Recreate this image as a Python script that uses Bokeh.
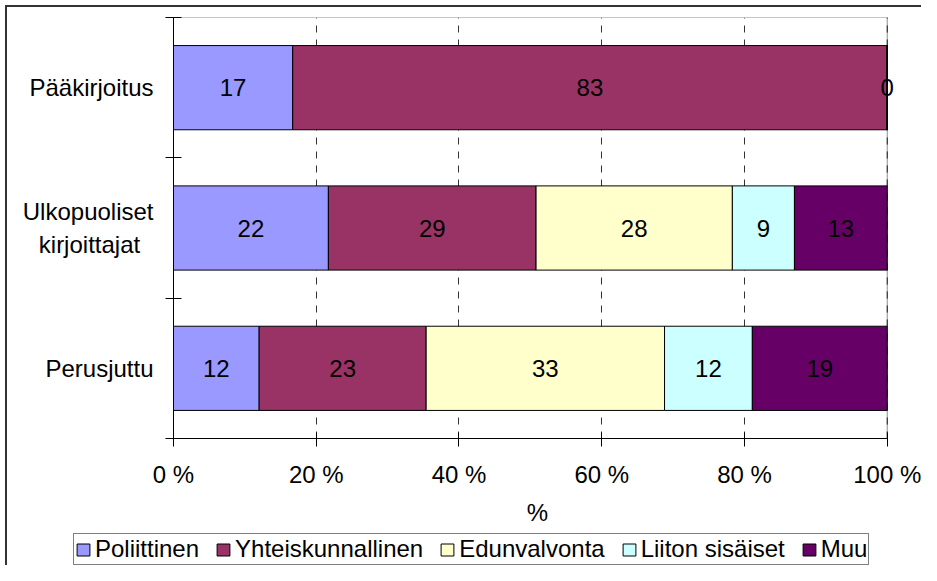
from bokeh.plotting import figure
from bokeh.layouts import column
from bokeh.models import (ColumnDataSource, FixedTicker, Legend, LegendItem,
                          LabelSet, Range1d)
from bokeh.core.properties import value
from bokeh.embed import file_html
from bokeh.resources import INLINE

# ---- data -------------------------------------------------------------
categories = ["Perusjuttu", "Ulkopuoliset kirjoittajat", "Pääkirjoitus"]  # bottom -> top
category_labels = ["Perusjuttu", "Ulkopuoliset\nkirjoittajat  ", "Pääkirjoitus"]
series = ["Poliittinen", "Yhteiskunnallinen", "Edunvalvonta", "Liiton sisäiset", "Muu"]
colors = ["#9999FF", "#993366", "#FFFFCC", "#CCFFFF", "#660066"]

poliittinen = [12.0, 21.7, 16.7]
yhteiskunnallinen = [23.4, 29.1, 83.3]
edunvalvonta = [33.4, 27.5, 0.0]
liiton_sisaiset = [12.3, 8.7, 0.0]
muu = [18.9, 13.0, 0.0]

x_ticks = [0, 20, 40, 60, 80, 100]
x_tick_labels = ["0 %", "20 %", "40 %", "60 %", "80 %", "100 %"]
x_title = "%"

FONT = "Liberation Sans"
FS = "24px"

values = [poliittinen, yhteiskunnallinen, edunvalvonta, liiton_sisaiset, muu]
ypos = [i + 0.5 for i in range(len(categories))]
ntop = len(categories)
xmax = x_ticks[-1]

data = {"y": ypos}
for name, vals in zip(series, values):
    data[name] = vals
src = ColumnDataSource(data)

p = figure(width=921, height=530, output_backend="svg", toolbar_location=None,
           x_range=Range1d(0, xmax * 1.02), y_range=Range1d(0, ntop),
           min_border_left=173, min_border_right=20, min_border_top=17,
           min_border_bottom=92)
p.frame_align = False
p.background_fill_color = "white"
p.border_fill_color = None
p.outline_line_color = None

# plot-area border (top and right, grey)
p.segment(x0=[0, xmax], y0=[ntop, 0], x1=[xmax, xmax], y1=[ntop, ntop],
          line_color="#8c8c8c", line_width=1)
p.segment(x0=[xmax], y0=[0], x1=[xmax], y1=[ntop],
          line_color="#333333", line_width=1, line_dash="7 7")

renderers = p.hbar_stack(series, y="y", height=0.6, color=colors,
                         line_color="black", line_width=1, source=src)

# ---- bar labels -------------------------------------------------------
lx, ly, lt = [], [], []
seen = set()
for ci in range(len(categories)):
    cum = 0.0
    for si in range(len(series)):
        v = values[si][ci]
        cx = cum + v / 2.0
        cum += v
        txt = str(int(round(v)))
        key = (round(cx, 3), ypos[ci], txt)
        if key in seen:
            continue
        seen.add(key)
        lx.append(cx)
        ly.append(ypos[ci])
        lt.append(txt)
lsrc = ColumnDataSource(dict(x=lx, y=ly, t=lt))
labels = LabelSet(x="x", y="y", text="t", source=lsrc, text_align="center",
                  text_baseline="middle", text_font=value(FONT),
                  text_font_size=value(FS), text_color="black")
p.add_layout(labels)

# ---- axes -------------------------------------------------------------
xa = p.xaxis[0]
xa.ticker = FixedTicker(ticks=x_ticks, minor_ticks=[])
xa.bounds = (0, xmax)
xa.major_label_overrides = {t: l for t, l in zip(x_ticks, x_tick_labels)}
xa.major_tick_in = 6
xa.major_tick_out = 8
xa.minor_tick_line_color = None
xa.axis_line_color = "black"
xa.major_tick_line_color = "black"
xa.major_label_text_font = FONT
xa.major_label_text_font_size = FS
xa.major_label_text_color = "black"
xa.major_label_standoff = 14
xa.axis_label = x_title
xa.axis_label_text_font = FONT
xa.axis_label_text_font_size = FS
xa.axis_label_text_font_style = "normal"
xa.axis_label_text_color = "black"
xa.axis_label_standoff = 8

ya = p.yaxis[0]
ya.ticker = FixedTicker(ticks=ypos, minor_ticks=list(range(ntop + 1)))
ya.major_label_overrides = {y: l for y, l in zip(ypos, category_labels)}
ya.major_tick_in = 0
ya.major_tick_out = 0
ya.minor_tick_in = 8
ya.minor_tick_out = 8
ya.minor_tick_line_color = "black"
ya.axis_line_color = "black"
ya.major_label_text_font = FONT
ya.major_label_text_font_size = FS
ya.major_label_text_color = "black"
ya.major_label_standoff = 12

p.ygrid.visible = False
p.xgrid.grid_line_color = "#333333"
p.xgrid.grid_line_dash = "7 7"
p.xgrid.grid_line_width = 1

# ---- legend (separate strip below the chart) --------------------------
# same data source, but the strip's y range lies far away from the bars,
# so only the legend swatches are seen
lf = figure(width=921, height=35, output_backend="svg", toolbar_location=None,
            x_range=Range1d(0, 1), y_range=Range1d(1000, 1001),
            x_axis_location=None, y_axis_location=None, min_border=0)
lf.frame_align = False
lf.grid.visible = False
lf.outline_line_color = None
lf.background_fill_color = None
lf.border_fill_color = None
lrend = lf.hbar_stack(series, y="y", height=0.6, color=colors,
                      line_color="black", line_width=1, source=src)
legend = Legend(items=[LegendItem(label=s, renderers=[r]) for s, r in zip(series, lrend)],
                orientation="horizontal", location=(73, 0),
                border_line_color="black", border_line_width=1,
                background_fill_color="white", background_fill_alpha=1,
                padding=1, margin=0, spacing=16, glyph_width=16, glyph_height=15,
                label_standoff=4, label_text_font=FONT, label_text_font_size=FS,
                label_text_color="black")
lf.add_layout(legend, "center")

layout = column(p, lf, spacing=0)
layout.styles = {"box-shadow": "inset 5px 5px 0 0 #ffffff, inset 7px 7px 0 0 #333333"}

open("out.html", "w").write(file_html(layout, INLINE))
